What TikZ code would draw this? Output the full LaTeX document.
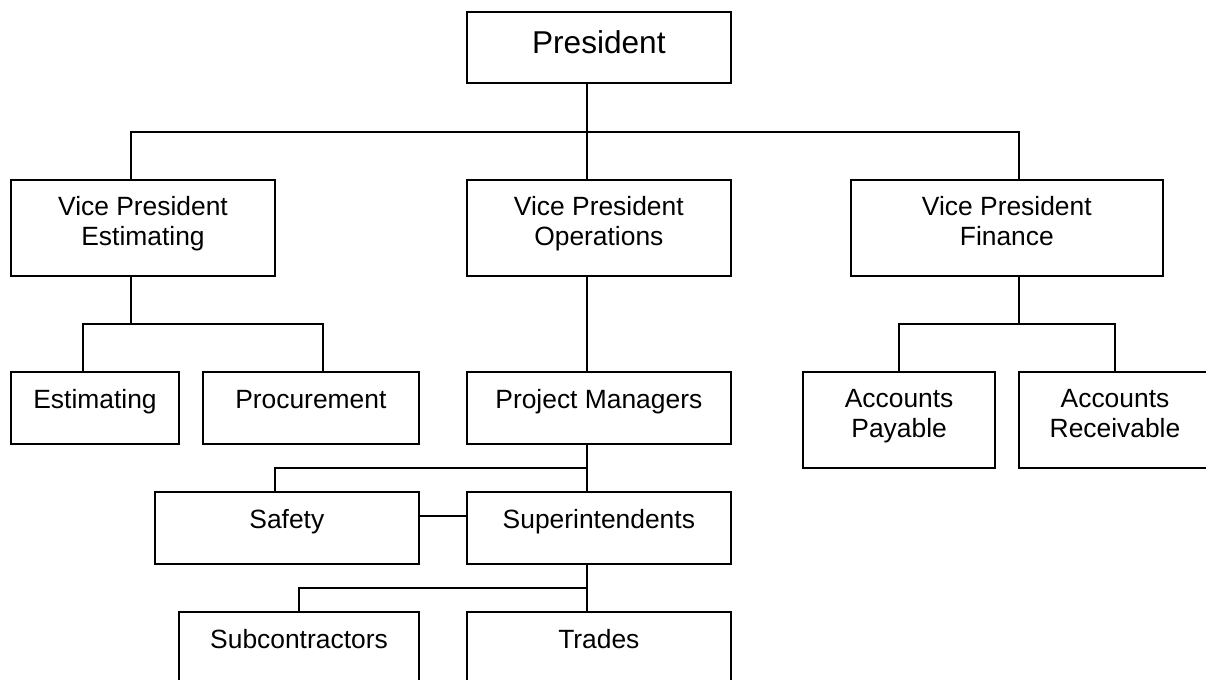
\documentclass[tikz,border=0pt]{standalone}
\usepackage{fontspec}
\setmainfont{Liberation Sans}
% centred block of one or more lines, with strut-based (uniform) height
\newcommand\orgtext[1]{\begin{tabular}{@{}c@{}}#1\end{tabular}}
\begin{document}
\begin{tikzpicture}[x=0.5pt,y=-0.5pt,
  every node/.style={inner sep=0pt, outer sep=0pt},
  every label/.style={inner sep=0pt, outer sep=0pt},
  orgbox/.style 2 args={draw, line width=1pt, minimum width=#1, minimum height=#2},
  oneline/.style={yshift=2.6pt, font=\fontsize{13.2pt}{14.65pt}\selectfont},
  twoline/.style={yshift=1.6pt, font=\fontsize{13.2pt}{14.65pt}\selectfont},
  topline/.style={yshift=0.8pt, font=\fontsize{15.8pt}{18pt}\selectfont},
  link/.style={draw, line width=1pt}]
\useasboundingbox (0,0) rectangle (1206,680);
\clip (0,0) rectangle (1206,680);

% boxes
\node[orgbox={132pt}{35.8pt}, label={[topline]center:\orgtext{President}}] (pres) at (598.85,47.5) {};

\node[orgbox={132.3pt}{47.85pt}, label={[twoline]center:\orgtext{Vice President\\Estimating}}] (vpe) at (143,227.85) {};
\node[orgbox={132pt}{47.85pt}, label={[twoline]center:\orgtext{Vice President\\Operations}}] (vpo) at (598.85,227.85) {};
\node[orgbox={156.15pt}{47.85pt}, label={[twoline]center:\orgtext{Vice President\\Finance}}] (vpf) at (1006.85,227.85) {};

\node[orgbox={84.3pt}{36.15pt}, label={[oneline]center:\orgtext{Estimating}}] (est) at (95,407.85) {};
\node[orgbox={108.15pt}{36.15pt}, label={[oneline]center:\orgtext{Procurement}}] (proc) at (310.85,407.85) {};
\node[orgbox={132pt}{36.15pt}, label={[oneline]center:\orgtext{Project Managers}}] (pm) at (598.85,407.85) {};

\node[orgbox={95.85pt}{48pt}, label={[twoline]center:\orgtext{Accounts\\Payable}}] (ap) at (899.15,419.7) {};
\node[orgbox={96pt}{48pt}, label={[twoline]center:\orgtext{Accounts\\Receivable}}] (ar) at (1115,419.7) {};

\node[orgbox={132.15pt}{36pt}, label={[oneline]center:\orgtext{Safety}}] (safety) at (286.85,528) {};
\node[orgbox={132pt}{36pt}, label={[oneline]center:\orgtext{Superintendents}}] (sup) at (598.85,528) {};

\node[orgbox={120pt}{36.15pt}, label={[oneline]center:\orgtext{Subcontractors}}] (sub) at (299,647.85) {};
\node[orgbox={132pt}{36.15pt}, label={[oneline]center:\orgtext{Trades}}] (trades) at (598.85,647.85) {};

% junction points of the connector lines
\coordinate (hubL) at (130.7,131.7);
\coordinate (hubM) at (586.7,131.7);
\coordinate (hubR) at (1019,131.7);
\coordinate (eL) at (82.7,324);
\coordinate (eM) at (130.7,324);
\coordinate (eR) at (322.7,324);
\coordinate (fL) at (899,324);
\coordinate (fM) at (1019,324);
\coordinate (fR) at (1115,324);
\coordinate (sL) at (274.7,468);
\coordinate (sM) at (586.7,468);
\coordinate (lk) at (0,515.7);
\coordinate (tL) at (298.7,587.8);
\coordinate (tM) at (586.7,587.8);

% President to vice presidents
\path[link] (pres.south -| hubM) -- (vpo.north -| hubM);
\path[link] (vpe.north -| hubL) -- (hubL) -- (hubR) -- (vpf.north -| hubR);

% estimating branch
\path[link] (vpe.south -| eM) -- (eM);
\path[link] (est.north -| eL) -- (eL) -- (eR) -- (proc.north -| eR);

% operations branch
\path[link] (vpo.south -| hubM) -- (pm.north -| hubM);
\path[link] (pm.south -| sM) -- (sup.north -| sM);
\path[link] (safety.north -| sL) -- (sL) -- (sM);
\path[link] (safety.east |- lk) -- (sup.west |- lk);
\path[link] (sup.south -| tM) -- (trades.north -| tM);
\path[link] (sub.north -| tL) -- (tL) -- (tM);

% finance branch
\path[link] (vpf.south -| fM) -- (fM);
\path[link] (ap.north -| fL) -- (fL) -- (fR) -- (ar.north -| fR);
\end{tikzpicture}
\end{document}
